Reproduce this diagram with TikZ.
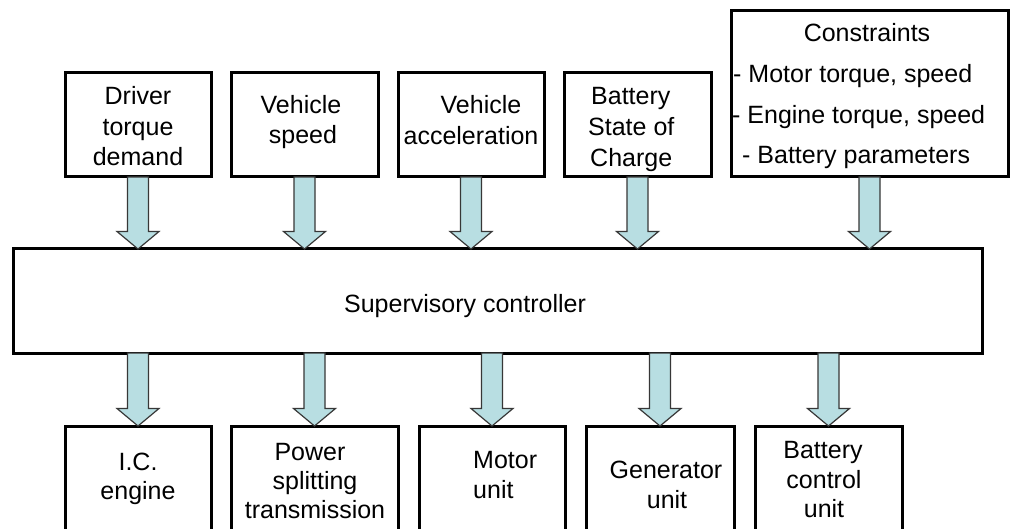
\documentclass[tikz,border=0pt]{standalone}
\usepackage{fontspec}
\setmainfont{Liberation Sans}
\usetikzlibrary{calc}
\definecolor{arrowfill}{RGB}{184,222,226}
\definecolor{arrowline}{RGB}{55,55,55}
\tikzset{
  box/.style={draw=black, line width=3pt, fill=white, inner sep=0pt, outer sep=0pt},
  lbl/.style={font=\fontsize{25}{30}\selectfont, inner sep=0pt, anchor=base},
  lblw/.style={lbl, anchor=base west},
  fat/.style={draw=arrowline, line width=1.2pt, fill=arrowfill, line join=miter}
}
\newcommand{\FatDown}[2]{%
  \draw[fat] let \p1=(#1), \p2=(#2) in
    (\x1-10.5pt,\y1) -- (\x1-10.5pt,\y2+17.5pt) -- (\x1-21pt,\y2+17.5pt) -- (\x1,\y2)
    -- (\x1+21pt,\y2+17.5pt) -- (\x1+10.5pt,\y2+17.5pt) -- (\x1+10.5pt,\y1) -- cycle;}
\begin{document}
\begin{tikzpicture}[x=1pt,y=-1pt]
\useasboundingbox (0,0) rectangle (1011,529);
\clip (0,0) rectangle (1011,529);
\fill[white] (0,0) rectangle (1011,529);
% top boxes
\node[box, minimum width=146pt, minimum height=104pt] (driver) at (138,125) {};
\node[box, minimum width=147pt, minimum height=104pt] (vspeed) at (304.5,125) {};
\node[box, minimum width=146pt, minimum height=104pt] (vacc) at (471,125) {};
\node[box, minimum width=147pt, minimum height=104pt] (soc) at (637.5,125) {};
\node[box, minimum width=277pt, minimum height=166pt] (cons) at (869.5,94) {};
% supervisory
\node[box, minimum width=969pt, minimum height=104pt] (sup) at (497.5,301) {};
% bottom boxes
\node[box, minimum width=146pt, minimum height=130pt] (ice) at (138,491) {};
\node[box, minimum width=167pt, minimum height=130pt] (pst) at (314.5,491) {};
\node[box, minimum width=146pt, minimum height=130pt] (mot) at (492,491) {};
\node[box, minimum width=148pt, minimum height=130pt] (gen) at (660,491) {};
\node[box, minimum width=147pt, minimum height=130pt] (bcu) at (828.5,491) {};
% arrows into the supervisory controller
\FatDown{driver.south}{driver.south |- sup.north}
\FatDown{vspeed.south}{vspeed.south |- sup.north}
\FatDown{vacc.south}{vacc.south |- sup.north}
\FatDown{soc.south}{soc.south |- sup.north}
\FatDown{cons.south}{cons.south |- sup.north}
% arrows out of the supervisory controller
\FatDown{sup.south -| ice.north}{ice.north}
\FatDown{sup.south -| pst.north}{pst.north}
\FatDown{sup.south -| mot.north}{mot.north}
\FatDown{sup.south -| gen.north}{gen.north}
\FatDown{sup.south -| bcu.north}{bcu.north}
% texts
\node[lbl] (t1a) at (138,105) {Driver};
\node[lbl] (t1b) at (138,136) {torque};
\node[lbl] (t1c) at (138,166) {demand};
\node[lbl] (t2a) at (301,114) {Vehicle};
\node[lbl] (t2b) at (303,144) {speed};
\node[lbl] (t3a) at (481,114) {Vehicle};
\node[lbl] (t3b) at (471,145) {acceleration};
\node[lblw] (t4a) at (591,105) {Battery};
\node[lblw] (t4b) at (588,136) {State of};
\node[lblw] (t4c) at (590,167) {Charge};
\node[lbl] (t5a) at (867,42) {Constraints};
\node[lblw] (t5b) at (733,83) {- Motor torque, speed};
\node[lblw] (t5c) at (732,124) {- Engine torque, speed};
\node[lblw] (t5d) at (742,164) {- Battery parameters};
\node[lbl] (t6) at (465,312) {Supervisory controller};
\node[lbl] (t7a) at (138,470) {I.C.};
\node[lbl] (t7b) at (138,499) {engine};
\node[lbl] (t8a) at (310,460) {Power};
\node[lbl] (t8b) at (315,489) {splitting};
\node[lbl] (t8c) at (315,518) {transmission};
\node[lblw] (t9a) at (473,468) {Motor};
\node[lblw] (t9b) at (473,498) {unit};
\node[lbl] (t10a) at (666,478) {Generator};
\node[lbl] (t10b) at (667,508) {unit};
\node[lbl] (t11a) at (823,458) {Battery};
\node[lbl] (t11b) at (824,488) {control};
\node[lbl] (t11c) at (824,517) {unit};
\end{tikzpicture}
\end{document}
